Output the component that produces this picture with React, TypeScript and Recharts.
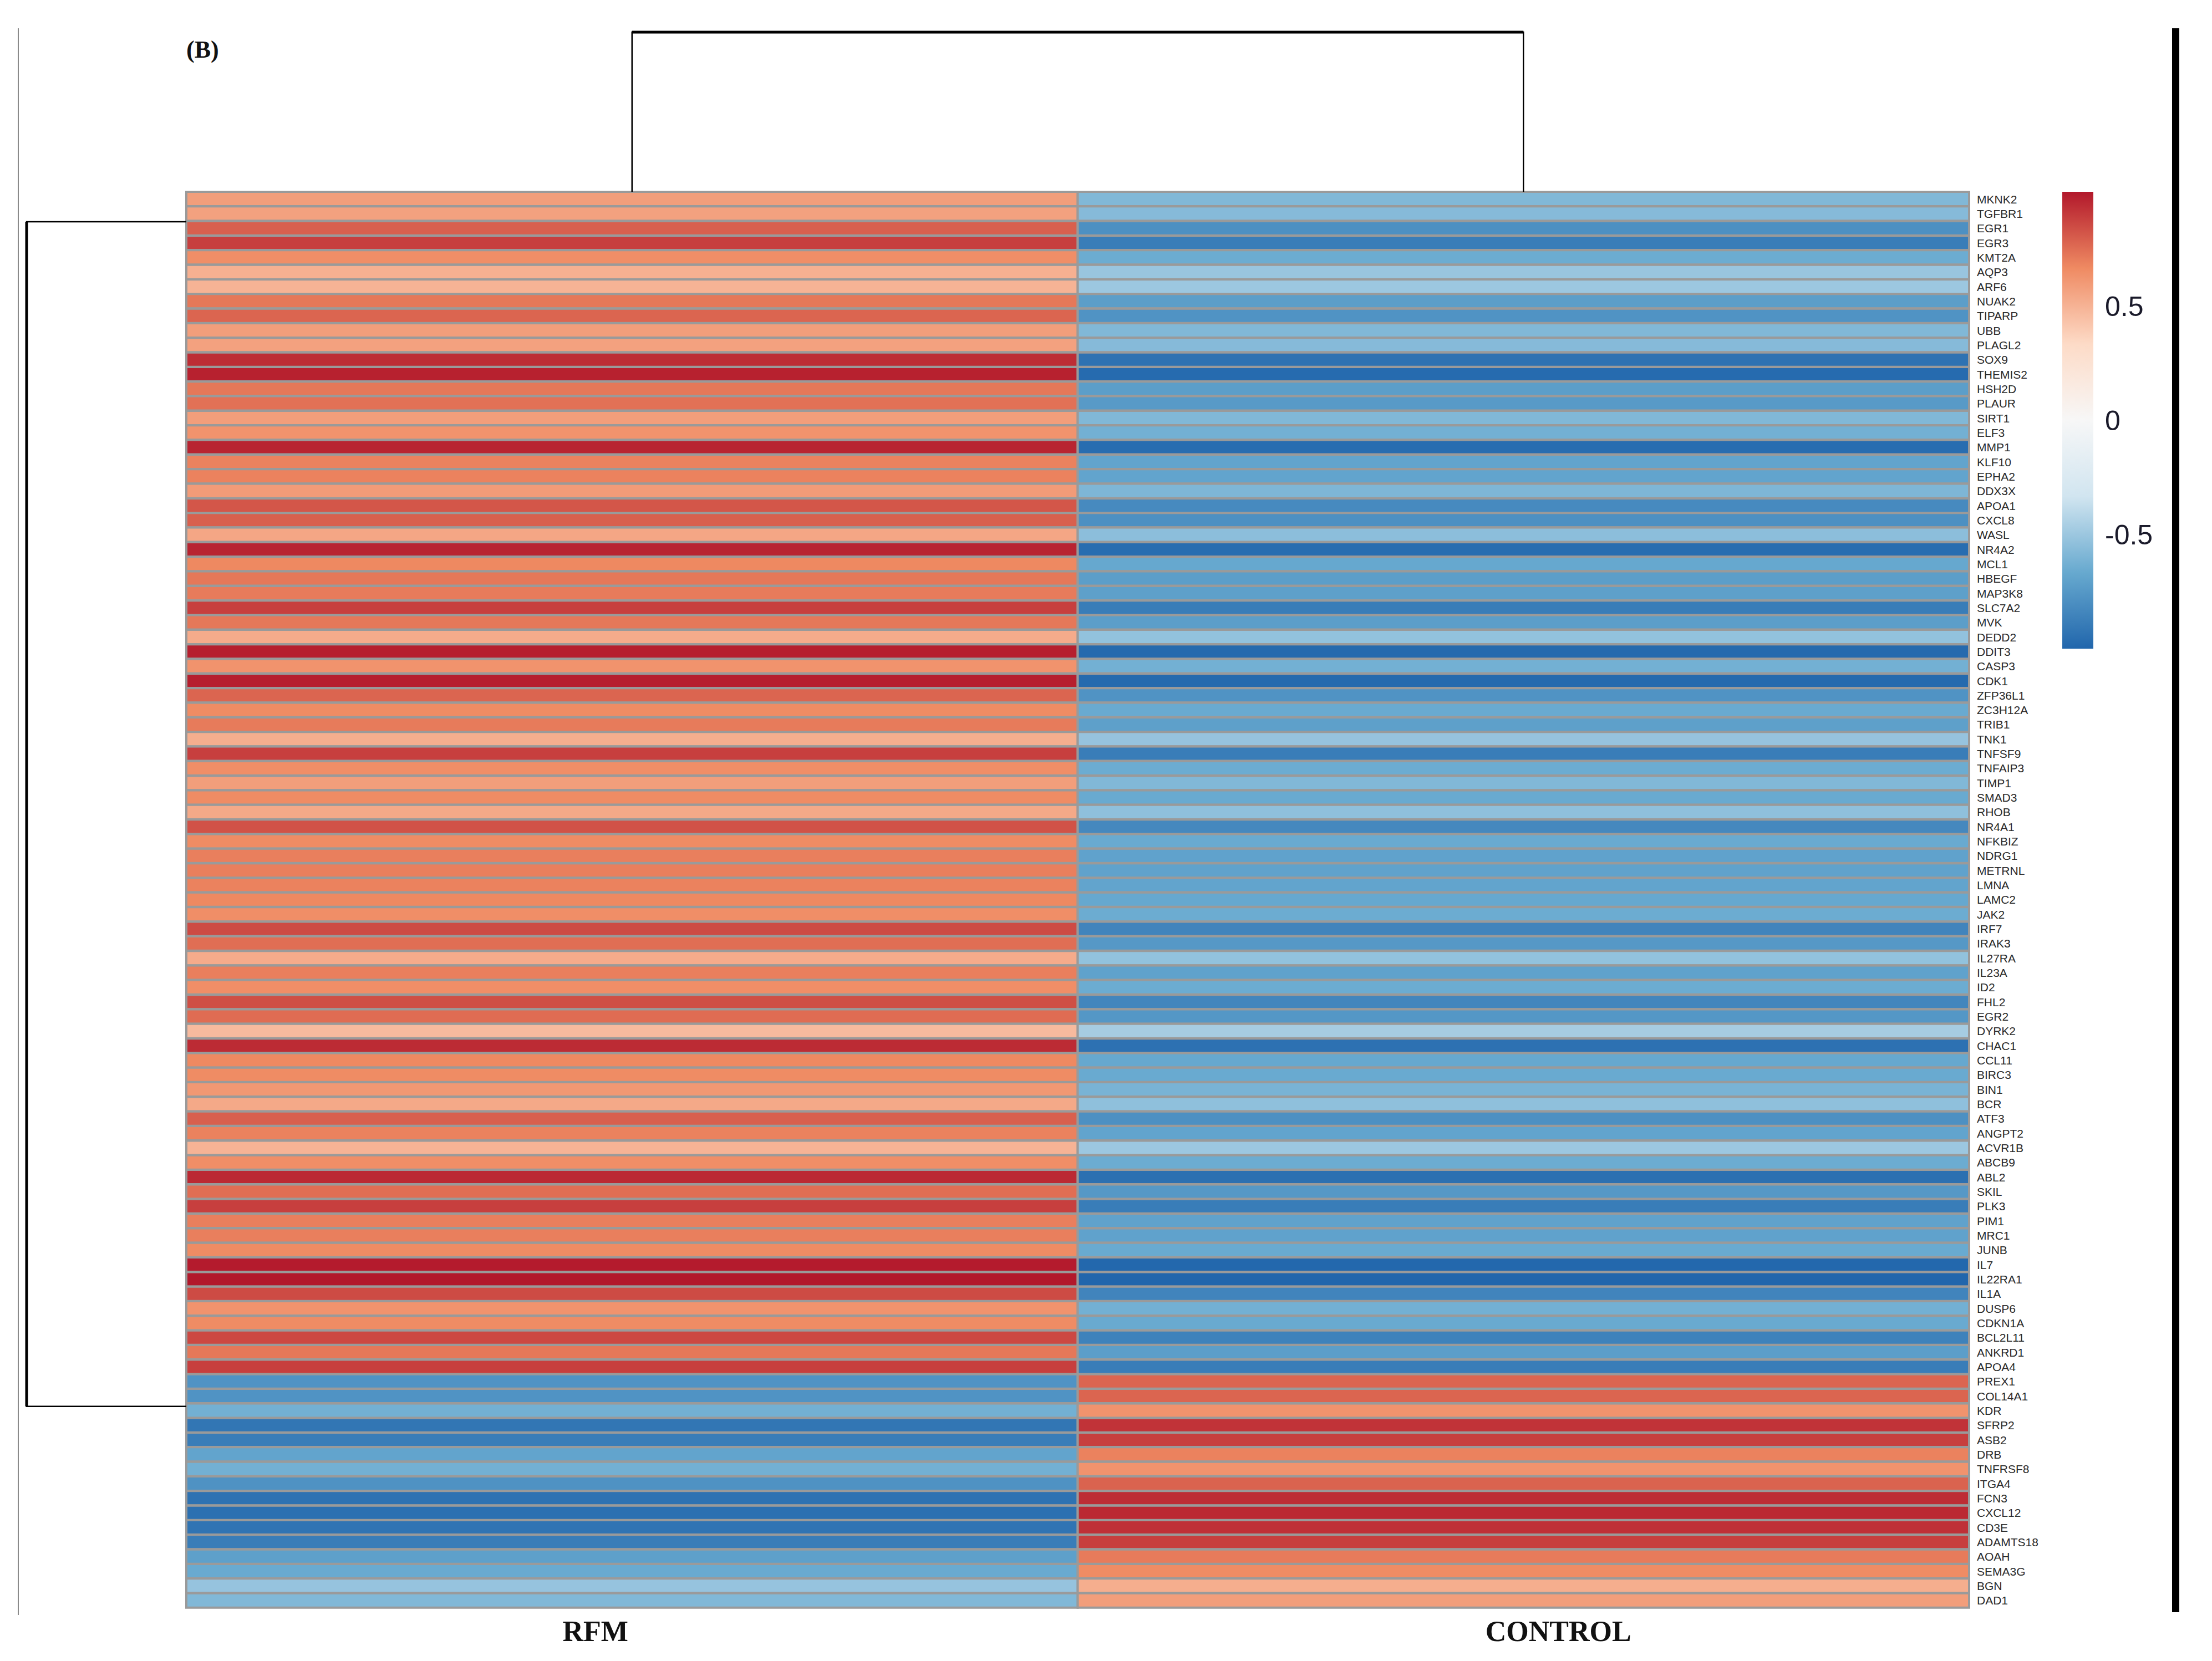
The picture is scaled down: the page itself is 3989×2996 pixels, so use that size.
import { BarChart, Bar, Cell, XAxis, YAxis, LineChart, Line } from 'recharts'

const genes = [
  'MKNK2', 'TGFBR1', 'EGR1', 'EGR3', 'KMT2A', 'AQP3', 'ARF6', 'NUAK2', 'TIPARP', 'UBB',
  'PLAGL2', 'SOX9', 'THEMIS2', 'HSH2D', 'PLAUR', 'SIRT1', 'ELF3', 'MMP1', 'KLF10', 'EPHA2',
  'DDX3X', 'APOA1', 'CXCL8', 'WASL', 'NR4A2', 'MCL1', 'HBEGF', 'MAP3K8', 'SLC7A2', 'MVK',
  'DEDD2', 'DDIT3', 'CASP3', 'CDK1', 'ZFP36L1', 'ZC3H12A', 'TRIB1', 'TNK1', 'TNFSF9', 'TNFAIP3',
  'TIMP1', 'SMAD3', 'RHOB', 'NR4A1', 'NFKBIZ', 'NDRG1', 'METRNL', 'LMNA', 'LAMC2', 'JAK2',
  'IRF7', 'IRAK3', 'IL27RA', 'IL23A', 'ID2', 'FHL2', 'EGR2', 'DYRK2', 'CHAC1', 'CCL11',
  'BIRC3', 'BIN1', 'BCR', 'ATF3', 'ANGPT2', 'ACVR1B', 'ABCB9', 'ABL2', 'SKIL', 'PLK3',
  'PIM1', 'MRC1', 'JUNB', 'IL7', 'IL22RA1', 'IL1A', 'DUSP6', 'CDKN1A', 'BCL2L11', 'ANKRD1',
  'APOA4', 'PREX1', 'COL14A1', 'KDR', 'SFRP2', 'ASB2', 'DRB', 'TNFRSF8', 'ITGA4', 'FCN3',
  'CXCL12', 'CD3E', 'ADAMTS18', 'AOAH', 'SEMA3G', 'BGN', 'DAD1',
]

const rfmValues = [
  0.585, 0.57, 0.79, 0.885, 0.65, 0.51, 0.5, 0.72, 0.775, 0.585,
  0.57, 0.94, 0.975, 0.72, 0.74, 0.585, 0.63, 0.965, 0.69, 0.69,
  0.595, 0.82, 0.79, 0.55, 0.965, 0.67, 0.72, 0.71, 0.885, 0.72,
  0.53, 0.98, 0.63, 0.98, 0.775, 0.66, 0.71, 0.52, 0.885, 0.65,
  0.585, 0.66, 0.54, 0.83, 0.66, 0.7, 0.7, 0.69, 0.67, 0.65,
  0.85, 0.75, 0.53, 0.7, 0.65, 0.84, 0.755, 0.47, 0.945, 0.67,
  0.66, 0.61, 0.54, 0.79, 0.69, 0.5, 0.65, 0.95, 0.75, 0.885,
  0.7, 0.7, 0.66, 0.99, 1.0, 0.85, 0.63, 0.66, 0.86, 0.72,
  0.885, -0.775, -0.775, -0.63, -0.92, -0.885, -0.69, -0.63, -0.78, -0.94,
  -0.95, -0.93, -0.885, -0.71, -0.66, -0.52, -0.585,
]

const controlValues = [
  -0.585, -0.57, -0.79, -0.885, -0.65, -0.51, -0.5, -0.72, -0.775, -0.585,
  -0.57, -0.94, -0.975, -0.72, -0.74, -0.585, -0.63, -0.965, -0.69, -0.69,
  -0.595, -0.82, -0.79, -0.55, -0.965, -0.67, -0.72, -0.71, -0.885, -0.72,
  -0.53, -0.98, -0.63, -0.98, -0.775, -0.66, -0.71, -0.52, -0.885, -0.65,
  -0.585, -0.66, -0.54, -0.83, -0.66, -0.7, -0.7, -0.69, -0.67, -0.65,
  -0.85, -0.75, -0.53, -0.7, -0.65, -0.84, -0.755, -0.47, -0.945, -0.67,
  -0.66, -0.61, -0.54, -0.79, -0.69, -0.5, -0.65, -0.95, -0.75, -0.885,
  -0.7, -0.7, -0.66, -0.99, -1.0, -0.85, -0.63, -0.66, -0.86, -0.72,
  -0.885, 0.775, 0.775, 0.63, 0.92, 0.885, 0.69, 0.63, 0.78, 0.94,
  0.95, 0.93, 0.885, 0.71, 0.66, 0.52, 0.585,
]

const groups = ['RFM', 'CONTROL']
const groupTicks = [0.5, 1.5]
const legendTicks = [-0.5, 0, 0.5]
const legendRange = [{ key: 'scale', span: [-1, 1] }]

// dendrograms: h = merge height (0 = leaf side), x / row = position
const colTreeLegs = [
  { x: 0.5, h: 0 }, { x: 0.5, h: 1 }, { x: 1.5, h: 1 }, { x: 1.5, h: 0 },
]
const colTreeTop = [{ x: 0.5, h: 1 }, { x: 1.5, h: 1 }]
const rowTreeArms = [
  { h: 0, row: 2.05 }, { h: 1, row: 2.05 }, { h: 1, row: 83.2 }, { h: 0, row: 83.2 },
]
const rowTreeStem = [{ h: 1, row: 2.05 }, { h: 1, row: 83.2 }]

// RdBu (7 class), blue -> red
const rdbu = ['#2166ac', '#67a9cf', '#d1e5f0', '#f7f7f7', '#fddbc7', '#ef8a62', '#b2182b']

function hex(c: string) {
  return [1, 3, 5].map(i => parseInt(c.slice(i, i + 2), 16))
}

function heatColor(v: number): string {
  const t = ((Math.max(-1, Math.min(1, v)) + 1) / 2) * (rdbu.length - 1)
  const i = Math.min(rdbu.length - 2, Math.floor(t))
  const f = t - i
  const a = hex(rdbu[i])
  const b = hex(rdbu[i + 1])
  const m = a.map((ch, k) => Math.round(ch + (b[k] - ch) * f))
  return `rgb(${m[0]},${m[1]},${m[2]})`
}

const rows = genes.map((gene, i) => ({ gene, rfm: 1, control: 1, i }))

const groupShift = [-66, 63]

function GroupTick(props: any) {
  const { x, y, payload } = props
  const idx = payload.value < 1 ? 0 : 1
  return (
    <text
      x={x + groupShift[idx]}
      y={y}
      dy={37}
      textAnchor="middle"
      fontFamily="'Liberation Serif', serif"
      fontWeight="bold"
      fontSize={52}
      fill="#111"
    >
      {groups[idx]}
    </text>
  )
}

const cellStroke = '#9a9a9a'

export default function App() {
  return (
    <div style={{ position: 'relative', width: 3989, height: 2996, background: '#fff', overflow: 'hidden' }}>
      <style>{'body{margin:0}'}</style>

      {/* frame lines */}
      <div style={{ position: 'absolute', left: 32, top: 51, width: 2, height: 2862, background: '#8a8a8a' }} />
      <div style={{ position: 'absolute', left: 3917, top: 51, width: 13, height: 2857, background: '#000' }} />

      <div
        style={{
          position: 'absolute', left: 336, top: 64, fontFamily: "'Liberation Serif', serif",
          fontWeight: 'bold', fontSize: 44, color: '#111',
        }}
      >
        (B)
      </div>

      {/* heatmap */}
      <div style={{ position: 'absolute', left: 0, top: 0 }}>
        <BarChart
          width={3989}
          height={2996}
          data={rows}
          layout="vertical"
          barCategoryGap={0}
          margin={{ top: 346, right: 278, bottom: 16, left: 336 }}
        >
          <XAxis
            type="number"
            domain={[0, 2]}
            ticks={groupTicks}
            axisLine={false}
            tickLine={false}
            tickSize={0}
            tickMargin={23}
            height={80}
            tick={<GroupTick />}
          />
          <YAxis
            type="category"
            dataKey="gene"
            orientation="right"
            interval={0}
            width={160}
            axisLine={false}
            tickLine={false}
            tickSize={0}
            tickMargin={14}
            tick={{ fontSize: 21, fill: '#2a2a2a', fontFamily: "'Liberation Sans', Arial, sans-serif" }}
          />
          <Bar dataKey="rfm" stackId="s" isAnimationActive={false} stroke={cellStroke} strokeWidth={4}>
            {rows.map((r, i) => (
              <Cell key={`r${i}`} fill={heatColor(rfmValues[i])} stroke={cellStroke} />
            ))}
          </Bar>
          <Bar dataKey="control" stackId="s" isAnimationActive={false} stroke={cellStroke} strokeWidth={4}>
            {rows.map((r, i) => (
              <Cell key={`c${i}`} fill={heatColor(controlValues[i])} stroke={cellStroke} />
            ))}
          </Bar>
        </BarChart>
      </div>

      {/* column dendrogram */}
      <div style={{ position: 'absolute', left: 336, top: 55 }}>
        <LineChart width={3215} height={291} margin={{ top: 3, right: 0, bottom: 0, left: 0 }}>
          <XAxis type="number" dataKey="x" domain={[0, 2]} hide />
          <YAxis type="number" dataKey="h" domain={[0, 1]} hide />
          <Line data={colTreeLegs} dataKey="h" type="linear" stroke="#000" strokeWidth={2.5} dot={false} isAnimationActive={false} />
          <Line data={colTreeTop} dataKey="h" type="linear" stroke="#000" strokeWidth={5} dot={false} isAnimationActive={false} />
        </LineChart>
      </div>

      {/* row dendrogram */}
      <div style={{ position: 'absolute', left: 45, top: 346 }}>
        <LineChart width={291} height={2554} margin={{ top: 0, right: 0, bottom: 0, left: 3 }}>
          <XAxis type="number" dataKey="h" domain={[0, 1]} reversed hide />
          <YAxis type="number" dataKey="row" domain={[0, 97]} reversed hide />
          <Line data={rowTreeArms} dataKey="row" type="linear" stroke="#000" strokeWidth={2.5} dot={false} isAnimationActive={false} />
          <Line data={rowTreeStem} dataKey="row" type="linear" stroke="#000" strokeWidth={5} dot={false} isAnimationActive={false} />
        </LineChart>
      </div>

      {/* colour key */}
      <div style={{ position: 'absolute', left: 3719, top: 346 }}>
        <BarChart
          width={256}
          height={824}
          data={legendRange}
          barCategoryGap={0}
          margin={{ top: 0, right: 0, bottom: 0, left: 0 }}
        >
          <defs>
            <linearGradient id="rdbuKey" x1="0" y1="1" x2="0" y2="0">
              {rdbu.map((c, i) => (
                <stop key={c} offset={`${(i / (rdbu.length - 1)) * 100}%`} stopColor={c} />
              ))}
            </linearGradient>
          </defs>
          <XAxis type="category" dataKey="key" hide />
          <YAxis
            type="number"
            orientation="right"
            domain={[-1, 1]}
            ticks={legendTicks}
            width={200}
            axisLine={false}
            tickLine={false}
            tickSize={0}
            tickMargin={21}
            tick={{ fontSize: 50, fill: '#1a1a2a', fontFamily: "'Liberation Sans', Arial, sans-serif" }}
          />
          <Bar dataKey="span" fill="url(#rdbuKey)" isAnimationActive={false} />
        </BarChart>
      </div>
    </div>
  )
}
